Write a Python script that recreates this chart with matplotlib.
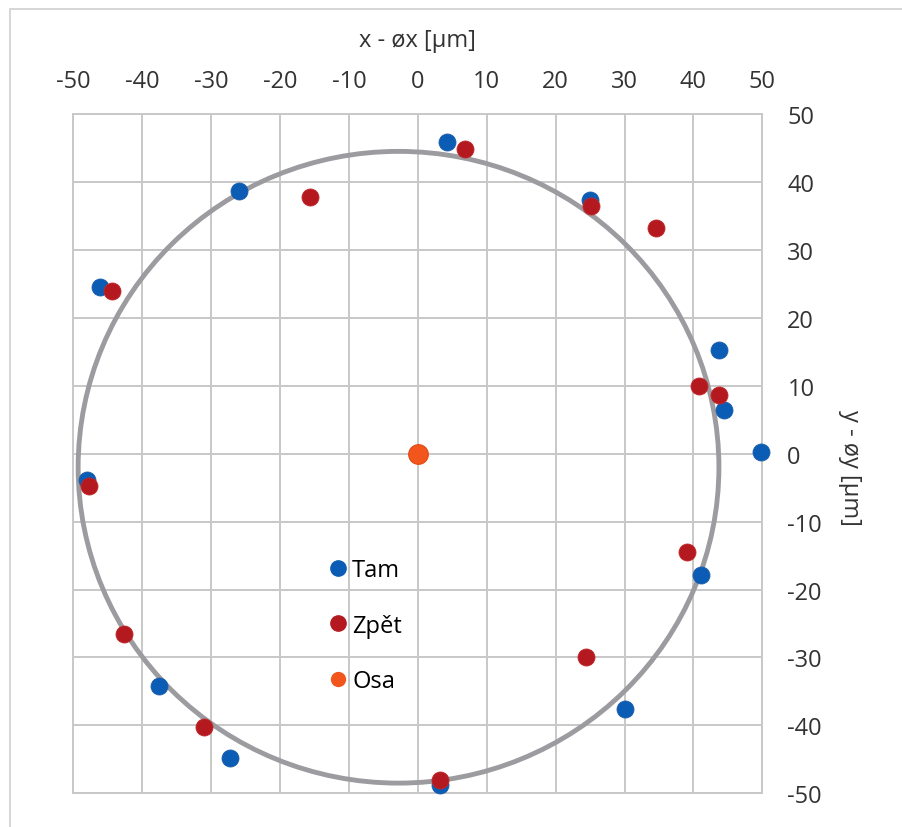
import matplotlib
matplotlib.use("Agg")
import matplotlib.pyplot as plt
from matplotlib.patches import Circle
from matplotlib.lines import Line2D

plt.rcParams['font.family'] = ['Open Sans', 'DejaVu Sans']
plt.rcParams['axes.unicode_minus'] = False

# Data
tam_x = [4.3, -26.0, -46.1, 25.0, 43.75, 44.5, 49.8, -48.0, -37.5, -27.2, 3.15, 41.1, 30.1]
tam_y = [45.9, 38.7, 24.5, 37.3, 15.3, 6.4, 0.3, -3.9, -34.2, -44.85, -48.8, -17.8, -37.6]
zpet_x = [6.8, -15.6, -44.4, 25.1, 34.5, 40.8, 43.75, -47.7, -42.6, -31.1, 3.15, 39.05, 24.4]
zpet_y = [44.8, 37.8, 24.0, 36.4, 33.2, 10.0, 8.7, -4.75, -26.5, -40.2, -48.0, -14.5, -30.0]
osa_x = [0.0]
osa_y = [0.0]
circle_center = (-2.8, -2.0)
circle_radius = 46.5
ticks = [-50, -40, -30, -20, -10, 0, 10, 20, 30, 40, 50]

blue = '#0A5CB4'
red = '#B3191E'
orange = '#F2561D'

fig = plt.figure(figsize=(9.03, 8.28), dpi=100)
ax = fig.add_axes([0.0812, 0.0407, 0.7630, 0.8204])

ax.set_xlim(-50, 50)
ax.set_ylim(-50, 50)
ax.set_xticks(ticks)
ax.set_yticks(ticks)

ax.grid(True, color='#C8C8C8', linewidth=1.4)
ax.set_axisbelow(True)
for s in ax.spines.values():
    s.set_color('#C8C8C8')
    s.set_linewidth(1.4)

ax.xaxis.tick_top()
ax.xaxis.set_label_position('top')
ax.yaxis.tick_right()
ax.yaxis.set_label_position('right')
ax.tick_params(axis='both', length=0, labelsize=17, colors='#333333')
ax.tick_params(axis='x', pad=15)
ax.tick_params(axis='y', pad=18)

ax.set_xlabel('x - øx [µm]', fontsize=17, color='#333333', labelpad=17)
ax.set_ylabel('y - øy [µm]', fontsize=17, color='#333333', rotation=270)
ax.yaxis.set_label_coords(1.145, 0.48)

circ = Circle(circle_center, circle_radius, fill=False, edgecolor='#9C9CA0', linewidth=3.5, zorder=2)
ax.add_patch(circ)

ax.scatter(tam_x, tam_y, s=150, color=blue, edgecolor='#1E5FA8', linewidth=0.6, zorder=3, clip_on=False)
ax.scatter(zpet_x, zpet_y, s=150, color=red, edgecolor='#C0282A', linewidth=0.6, zorder=4, clip_on=False)
ax.scatter(osa_x, osa_y, s=200, color=orange, edgecolor='#E04A10', linewidth=0.8, zorder=5)

handles = [
    Line2D([], [], marker='o', linestyle='none', markersize=11, color=blue),
    Line2D([], [], marker='o', linestyle='none', markersize=11, color=red),
    Line2D([], [], marker='o', linestyle='none', markersize=10, color=orange),
]
ax.legend(handles, ['Tam', 'Zpět', 'Osa'], loc='upper left', bbox_to_anchor=(0.36, 0.36),
          frameon=False, fontsize=17, handlelength=0.6, handletextpad=0.3,
          labelspacing=1.33, borderaxespad=0)

fig.patches.append(plt.Rectangle((0.011, -0.01), 1.0, 0.998, transform=fig.transFigure,
                                 fill=False, edgecolor='#D0D0D0', linewidth=1.2))

fig.savefig('out.png', dpi=100)
